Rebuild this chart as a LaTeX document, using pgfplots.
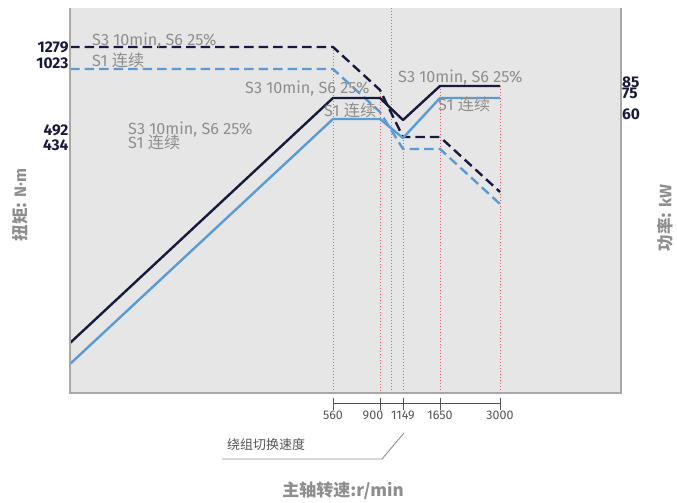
\documentclass[border=0pt]{standalone}
\usepackage{pgfplots}
\pgfplotsset{compat=1.18}
\usepackage{fontspec}
\setmainfont{Fira Sans}
\newfontfamily\cjk{Noto Sans CJK SC}
\definecolor{navy}{HTML}{171A3D}
\definecolor{lblue}{HTML}{5B9BD5}
\definecolor{rdot}{HTML}{EC5A66}
\definecolor{bgg}{HTML}{E6E6E6}
\definecolor{tgray}{HTML}{8E8E8E}
\definecolor{agray}{HTML}{A8A8A8}
\definecolor{lgray}{HTML}{555555}
\begin{document}
\begin{tikzpicture}[x=1pt,y=1pt]
\path[use as bounding box] (0,0) rectangle (677,503);
\begin{axis}[
  at={(70pt,110pt)}, anchor=south west,
  scale only axis, width=551pt, height=385pt,
  xmin=70, xmax=621, ymin=110, ymax=495,
  axis background/.style={fill=bgg},
  axis line style={draw=none},
  clip=false,
  /pgf/number format/assume math mode=true,
  major tick length=0pt,
  xtick={333,403,440,500},
  xticklabels={560,1149,1650,3000},
  extra x ticks={380},
  extra x tick labels={900},
  extra x tick style={xticklabel style={xshift=-7pt}},
  xticklabel style={font=\fontsize{12.5}{14}\selectfont, text=lgray, anchor=center, yshift=-22pt},
  ytick={456,440,373,358},
  yticklabels={1279,1023,492,434},
  yticklabel style={font=\fontsize{15.5}{17}\selectfont\bfseries, text=navy, anchor=east, xshift=2pt},
  every axis plot/.append style={line join=round},
]
% red dotted reference lines
\addplot[rdot, dash pattern=on 1.2pt off 1.8pt, line width=0.9pt] coordinates {(333,456) (333,110)};
\addplot[rdot, dash pattern=on 1.2pt off 1.8pt, line width=0.9pt] coordinates {(380,413) (380,110)};
\addplot[rdot, dash pattern=on 1.2pt off 1.8pt, line width=0.9pt] coordinates {(391,495) (391,110)};
\addplot[rdot, dash pattern=on 1.2pt off 1.8pt, line width=0.9pt] coordinates {(403,366) (403,110)};
\addplot[rdot, dash pattern=on 1.2pt off 1.8pt, line width=0.9pt] coordinates {(440,417) (440,110)};
\addplot[rdot, dash pattern=on 1.2pt off 1.8pt, line width=0.9pt] coordinates {(500,417) (500,110)};
% torque (dashed)
\addplot[navy, line width=2.4pt, dash pattern=on 9.5pt off 5pt] coordinates {(70,456) (333,456) (380,413) (403,366) (440,366) (500,311)};
\addplot[lblue, line width=2.4pt, dash pattern=on 9.5pt off 5pt] coordinates {(70,434) (333,434) (380,391) (403,354) (440,354) (500,299)};
% power (solid)
\addplot[navy, line width=2.4pt] coordinates {(70,160) (333,405) (380,405) (403,383) (440,417) (500,417)};
\addplot[lblue, line width=2.4pt] coordinates {(70,139) (333,384) (380,384) (403,365) (440,405) (500,405)};
% axis lines
\draw[agray, line width=1.5pt] (axis cs:70,495) -- (axis cs:70,110);
\draw[agray, line width=1.5pt] (axis cs:621,495) -- (axis cs:621,110);
\draw[agray, line width=2pt] (axis cs:69,110) -- (axis cs:622,110);
% speed scale
\draw[lgray, line width=0.8pt] (axis cs:333,100) -- (axis cs:500,100);
\draw[lgray, line width=0.8pt] (axis cs:333,105) -- (axis cs:333,93);
\draw[lgray, line width=0.8pt] (axis cs:380,105) -- (axis cs:380,93);
\draw[lgray, line width=0.8pt] (axis cs:403,105) -- (axis cs:403,93);
\draw[lgray, line width=0.8pt] (axis cs:440,105) -- (axis cs:440,93);
\draw[lgray, line width=0.8pt] (axis cs:500,105) -- (axis cs:500,93);
% curve labels
\begin{scope}[every node/.style={text=tgray, font=\fontsize{16.2}{18}\selectfont, anchor=base west, inner sep=0pt}]
\node at (axis cs:92,457) {S3 10min, S6 25\%};
\node at (axis cs:92,436) {S1 {\cjk 连续}};
\node at (axis cs:128,368) {S3 10min, S6 25\%};
\node at (axis cs:128,354) {S1 {\cjk 连续}};
\node at (axis cs:245,409) {S3 10min, S6 25\%};
\node at (axis cs:324,386) {S1 {\cjk 连续}};
\node at (axis cs:398,420) {S3 10min, S6 25\%};
\node at (axis cs:438,392) {S1 {\cjk 连续}};
\end{scope}
% right axis labels
\begin{scope}[every node/.style={text=navy, font=\fontsize{15.5}{17}\selectfont\bfseries, anchor=west, inner sep=0pt}]
\node at (axis cs:622,421) {85};
\node at (axis cs:622,410) {75};
\node at (axis cs:622,389) {60};
\end{scope}
% winding switch annotation
\draw[tgray, line width=0.9pt] (axis cs:222,44) -- (axis cs:382,44) -- (axis cs:404,70);
\node[anchor=base west, inner sep=0pt, text=lgray, font=\fontsize{13}{15}\selectfont\cjk] at (axis cs:227,53) {绕组切换速度};
\end{axis}
% axis titles
\node[text=tgray, font=\fontsize{17}{19}\selectfont\cjk\bfseries] at (343,12) {主轴转速:r/min};
\node[text=tgray, font=\fontsize{16.5}{18}\selectfont\cjk\bfseries, rotate=90] at (20,298) {扭矩: {\rmfamily\bfseries N·m}};
\node[text=tgray, font=\fontsize{16.5}{18}\selectfont\cjk\bfseries, rotate=90] at (665,285) {功率: {\rmfamily\bfseries kW}};
\end{tikzpicture}
\end{document}
